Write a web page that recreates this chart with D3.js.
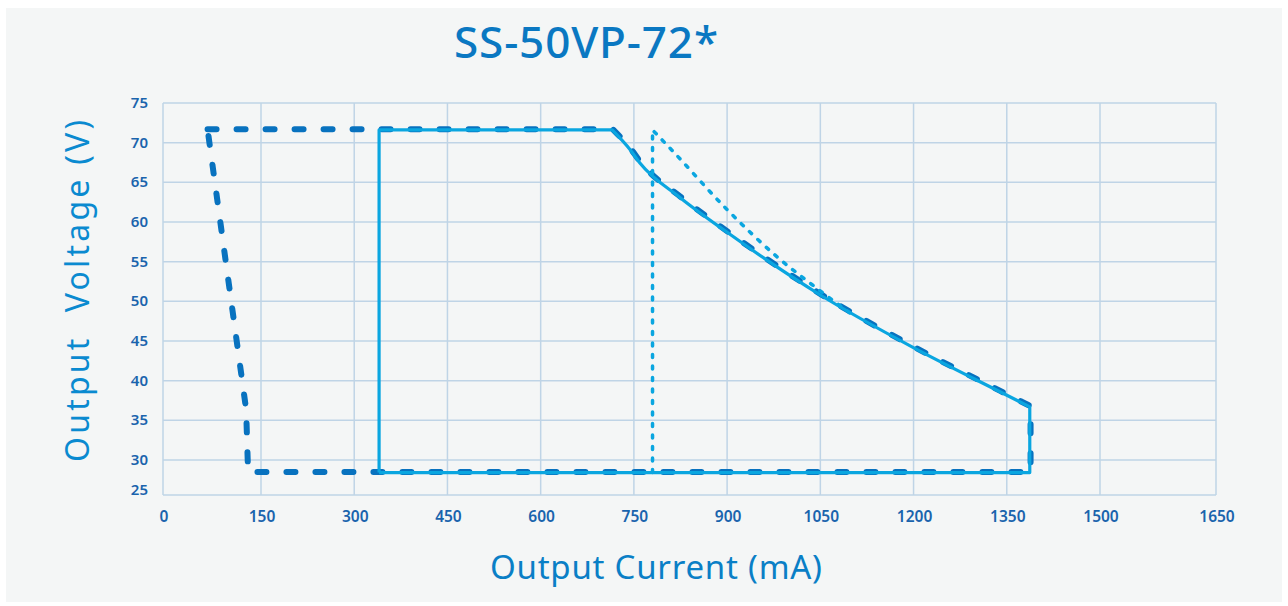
<!DOCTYPE html>
<html>
<head>
<meta charset="utf-8">
<script src="https://cdn.jsdelivr.net/npm/d3@7"></script>
<style>
  html, body { margin: 0; padding: 0; background: #ffffff; }
  svg { display: block; font-family: "Noto Sans", "Open Sans", sans-serif; }
</style>
</head>
<body>
<svg id="chart" width="1288" height="606"></svg>
<script>
// ---- data ----
const title = "SS-50VP-72*";
const xLabel = "Output Current (mA)";
const yLabel = "Output\u00a0\u00a0Voltage (V)";
const xTicks = [0, 150, 300, 450, 600, 750, 900, 1050, 1200, 1350, 1500, 1650];
const yTicks = [25, 30, 35, 40, 45, 50, 55, 60, 65, 70, 75];

// power-limit curve (mA, V)
const curveI = [715, 744, 760, 824, 900, 1050, 1199, 1339, 1387];
const curveV = [71.6, 69.1, 67.4, 63.1, 58.7, 50.8, 44.2, 38.6, 36.7];

// solid light-blue operating window
const solidLeftI = 340;
const topV = 71.6;
const bottomV = 28.2;
const rightI = 1387;

// dark dashed window (left edge slanted)
const dashedLeftI = [129, 126, 67];
const dashedLeftV = [28.2, 36.3, 71.6];

// dotted line
const dotI = [780, 780, 813, 897, 982, 1045, 1100];
const dotV = [28.2, 71.6, 68.9, 61.8, 55.5, 51.6, 48.4];

// ---- layout ----
const svg = d3.select("#chart");
svg.append("rect").attr("x", 6).attr("y", 8).attr("width", 1276).attr("height", 594).attr("fill", "#f4f6f6");

const x = d3.scaleLinear().domain([0, 150, 1500, 1650]).range([163, 261, 1100, 1216]);
const y = d3.scaleLinear().domain([25, 30, 75]).range([495, 460, 103]);

const gridColor = "#bfd4e6";
const tickColor = "#1a64ad";

// grid
const g = svg.append("g");
g.selectAll("line.vx").data(xTicks).join("line")
  .attr("x1", d => x(d)).attr("x2", d => x(d))
  .attr("y1", y(75)).attr("y2", y(25))
  .attr("stroke", gridColor).attr("stroke-width", 1.5);
g.selectAll("line.hy").data(yTicks).join("line")
  .attr("x1", x(0)).attr("x2", x(1650))
  .attr("y1", d => y(d)).attr("y2", d => y(d))
  .attr("stroke", gridColor).attr("stroke-width", 1.5);

// tick labels
svg.append("g").selectAll("text").data(xTicks).join("text")
  .attr("x", d => x(d) + 1).attr("y", 522)
  .attr("text-anchor", "middle")
  .attr("font-size", 15.5).attr("font-weight", 600).attr("fill", tickColor)
  .text(d => d);
svg.append("g").selectAll("text").data(yTicks).join("text")
  .attr("x", 148).attr("y", d => (d === 25 ? y(d) - 5 : y(d)) + 5)
  .attr("text-anchor", "end")
  .attr("font-size", 15).attr("font-weight", 600).attr("fill", tickColor)
  .text(d => d);

// titles
svg.append("text").attr("x", 454).attr("y", 58)
  .attr("font-size", 44).attr("font-weight", 500).attr("fill", "#0a78c2")
  .attr("textLength", 264).attr("lengthAdjust", "spacing").text(title);
svg.append("text").attr("x", 490).attr("y", 579)
  .attr("font-size", 33).attr("fill", "#0a7fc6")
  .attr("textLength", 332).attr("lengthAdjust", "spacing").text(xLabel);
svg.append("text").attr("transform", "translate(89,462) rotate(-90)")
  .attr("font-size", 32).attr("fill", "#0a8ad0")
  .attr("textLength", 342).attr("lengthAdjust", "spacing").text(yLabel);

// helpers
const lin = d3.line().x(d => x(d[0])).y(d => y(d[1]));
const mono = d3.line().x(d => x(d[0])).y(d => y(d[1])).curve(d3.curveMonotoneX);
const curvePts = curveI.map((c, i) => [c, curveV[i]]);

// dark dashed path: top-left -> top -> curve -> right -> bottom -> slanted left
const dashedLeft = dashedLeftI.map((c, i) => [c, dashedLeftV[i]]);
const darkD = lin([[dashedLeftI[2], topV], [curveI[0], topV]]) +
  mono(curvePts).replace(/^M/, "L") +
  lin([[rightI, bottomV], ...dashedLeft]).replace(/^M/, "L");
svg.append("path").attr("d", darkD).attr("fill", "none")
  .attr("stroke", "#0872bf").attr("stroke-width", 6)
  .attr("stroke-linecap", "round").attr("stroke-linejoin", "round")
  .attr("stroke-dasharray", "9,20")
  .attr("transform", "translate(0.8,-0.6)");

// dotted
const dotPts = dotI.map((c, i) => [c, dotV[i]]);
svg.append("path").attr("d", lin([dotPts[0], dotPts[1]]) + mono(dotPts.slice(1)).replace(/^M/, "L"))
  .attr("fill", "none").attr("stroke", "#0aa6e0").attr("stroke-width", 3.5)
  .attr("stroke-linecap", "round").attr("stroke-linejoin", "round")
  .attr("stroke-dasharray", "3,8.5");

// solid light blue
const solidD = lin([[solidLeftI, bottomV], [solidLeftI, topV], [curveI[0], topV]]) +
  mono(curvePts).replace(/^M/, "L") +
  lin([[rightI, bottomV], [solidLeftI, bottomV]]).replace(/^M/, "L");
svg.append("path").attr("d", solidD).attr("fill", "none")
  .attr("stroke", "#0aa6e0").attr("stroke-width", 3.2)
  .attr("stroke-linejoin", "round");
</script>
</body>
</html>
